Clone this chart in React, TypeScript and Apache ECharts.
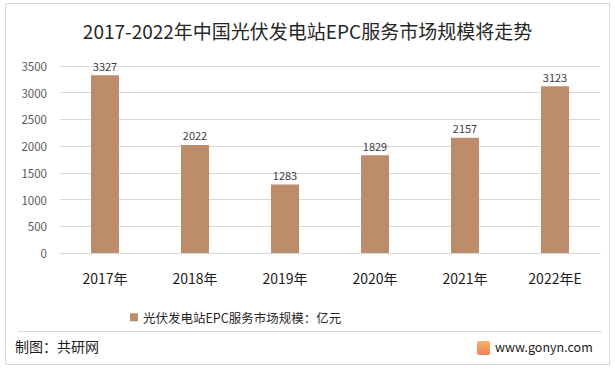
import React, { useEffect, useRef } from "react";
import * as echarts from "echarts";

const categories = ["2017年", "2018年", "2019年", "2020年", "2021年", "2022年E"];
const values = [3327, 2022, 1283, 1829, 2157, 3123];
const seriesName = "光伏发电站EPC服务市场规模：亿元";
const titleText = "2017-2022年中国光伏发电站EPC服务市场规模将走势";
const sourceText = "制图：共研网";
const siteText = "www.gonyn.com";

const FONT = "'Noto Sans CJK SC', 'Noto Sans', sans-serif";

export default function App() {
  const ref = useRef<HTMLDivElement>(null);
  useEffect(() => {
    if (!ref.current) return;
    const chart = echarts.init(ref.current, undefined, { renderer: "svg" });
    chart.setOption({
      animation: false,
      backgroundColor: "#ffffff",
      textStyle: { fontFamily: FONT },
      title: {
        text: titleText,
        left: "center",
        top: 16,
        textStyle: { fontSize: 19, fontWeight: "normal", color: "#262626", fontFamily: FONT },
      },
      grid: { left: 60, right: 15, top: 66, bottom: 120, containLabel: false },
      legend: {
        data: [seriesName],
        left: 125,
        top: 306,
        icon: "rect",
        itemWidth: 8,
        itemHeight: 8,
        itemGap: 4,
        textStyle: { fontSize: 12.5, color: "#262626", fontFamily: FONT },
      },
      xAxis: {
        type: "category",
        data: categories,
        axisLine: { lineStyle: { color: "#d9d9d9" } },
        axisTick: { show: false },
        axisLabel: { color: "#1a1a1a", fontSize: 14, margin: 18, fontFamily: FONT },
      },
      yAxis: {
        type: "value",
        min: 0,
        max: 3500,
        interval: 500,
        axisLine: { show: false },
        axisTick: { show: false },
        axisLabel: {
          color: "#595959",
          fontSize: 11.5,
          margin: 13,
          fontFamily: FONT,
          formatter: (v: number) => String(v),
        },
        splitLine: { lineStyle: { color: "#d9d9d9" } },
      },
      series: [
        {
          name: seriesName,
          type: "bar",
          data: values,
          barWidth: 28,
          itemStyle: { color: "#BC8C6B" },
          label: {
            show: true,
            position: "top",
            distance: 4,
            color: "#404040",
            fontSize: 11,
            fontFamily: FONT,
          },
        },
      ],
      graphic: [
        {
          type: "rect",
          shape: { x: 5.5, y: 3.5, width: 604, height: 361 },
          style: { fill: "none", stroke: "#d9d9d9", lineWidth: 1 },
          silent: true,
        },
        {
          type: "line",
          shape: { x1: 18, y1: 331.5, x2: 602, y2: 331.5 },
          style: { stroke: "#d9d9d9", lineWidth: 1 },
          silent: true,
        },
        {
          type: "text",
          left: 15,
          top: 339,
          style: { text: sourceText, fontSize: 14, fill: "#1a1a1a", fontFamily: FONT },
        },
        {
          type: "rect",
          shape: { x: 477, y: 341, width: 13, height: 14, r: 2 },
          style: {
            fill: new echarts.graphic.LinearGradient(0, 0, 0, 1, [
              { offset: 0, color: "#F7B267" },
              { offset: 1, color: "#F07F5A" },
            ]),
          },
        },
        {
          type: "text",
          left: 495,
          top: 340,
          style: { text: siteText, fontSize: 12.5, fill: "#1a1a1a", fontFamily: FONT },
        },
      ],
    });
    return () => chart.dispose();
  }, []);
  return (
    <div
      ref={ref}
      style={{ position: "fixed", left: 0, top: 0, width: 615, height: 373 }}
    />
  );
}
